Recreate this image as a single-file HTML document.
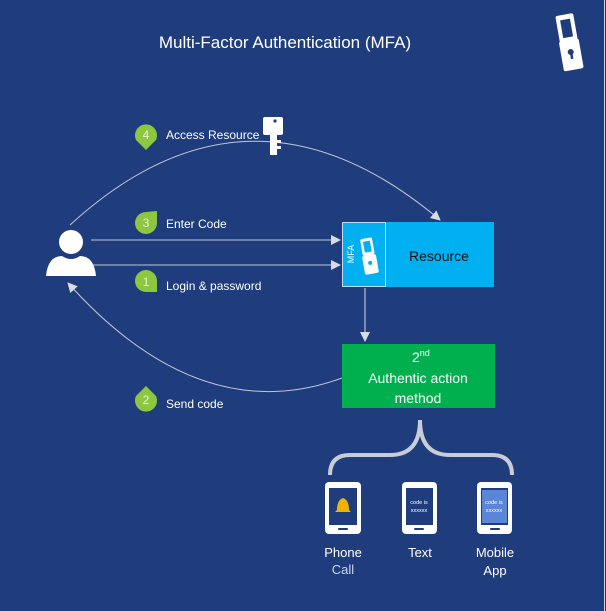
<!DOCTYPE html><html><head><style>body{margin:0}svg{display:block}text{font-family:"Liberation Sans",sans-serif}</style></head><body>
<svg width="606" height="611" viewBox="0 0 606 611">
<rect width="606" height="611" fill="#1f3d7d"/>
<line x1="604.5" y1="0" x2="604.5" y2="611" stroke="#c8d0e0" stroke-width="1"/>
<text x="285" y="48" fill="#fff" font-size="17" text-anchor="middle">Multi-Factor Authentication (MFA)</text>
<!-- top right phone-lock icon -->
<g transform="translate(570,42) rotate(-10)" fill="#fff">
<rect x="-10" y="-28" width="18" height="28" rx="2"/><rect x="-6" y="-23" width="10" height="18" fill="#1f3d7d"/>
<rect x="-11" y="-2" width="20" height="30" rx="2"/><circle cx="-1" cy="10" r="3" fill="#1f3d7d"/><rect x="-2" y="10" width="2.5" height="7" fill="#1f3d7d"/>
</g>
<defs><marker id="a" markerWidth="10" markerHeight="10" refX="9" refY="5" orient="auto" markerUnits="userSpaceOnUse"><path d="M0,0 L10,5 L0,10z" fill="#d8dce6"/></marker></defs>
<!-- arcs -->
<path d="M70,225 Q250,60 440,220" fill="none" stroke="#c0c8d8" stroke-width="1" marker-end="url(#a)"/>
<path d="M342,378 Q200,430 68,283" fill="none" stroke="#c0c8d8" stroke-width="1" marker-end="url(#a)"/>
<line x1="91" y1="240" x2="340" y2="240" stroke="#c0c8d8" marker-end="url(#a)"/>
<line x1="91" y1="265" x2="340" y2="265" stroke="#c0c8d8" marker-end="url(#a)"/>
<line x1="365" y1="288" x2="365" y2="341" stroke="#d8dce6" marker-end="url(#a)"/>
<!-- key -->
<g fill="#fff"><rect x="263" y="117" width="20" height="18" rx="2"/><rect x="270" y="133" width="7" height="22"/><rect x="277" y="140" width="4" height="3"/><rect x="277" y="146" width="4" height="3"/></g>
<circle cx="275" cy="121" r="1.6" fill="#1f3d7d"/>
<!-- person -->
<circle cx="71" cy="242" r="12" fill="#fff"/>
<path d="M46,276 Q48,256 62,256 Q71,262 80,256 Q94,256 96,276Z" fill="#fff"/>
<!-- badges -->
<g fill="#8dc63f">
<path d="M146,150 L136,140 A11,11 0 1 1 156,140Z"/>
<path d="M157,211 L157,223 A11,11 0 1 1 146,212Z"/>
<path d="M157,292 L146,292 A11,11 0 1 1 157,281Z"/>
<path d="M146,386 L156,396 A11,11 0 1 1 136,396Z"/>
</g>
<g fill="#e8f5d0" font-size="12" text-anchor="middle"><text x="146" y="139">4</text><text x="146" y="227">3</text><text x="146" y="286">1</text><text x="146" y="404">2</text></g>
<g fill="#fff" font-size="12"><text x="166" y="139">Access Resource</text><text x="166" y="228">Enter Code</text><text x="166" y="290">Login &amp; password</text><text x="166" y="408">Send code</text></g>
<!-- resource -->
<rect x="342" y="222" width="152" height="65" fill="#00b0f0"/>
<rect x="342.5" y="222.5" width="43" height="64" fill="#00b0f0" stroke="#c8d8e8"/>
<text x="439" y="261" font-size="14" text-anchor="middle" fill="#111">Resource</text>
<text transform="translate(354,254) rotate(-90)" font-size="9" fill="#fff" text-anchor="middle">MFA</text>
<g transform="translate(369,256) rotate(-10)" fill="#fff"><rect x="-6" y="-18" width="12" height="17" rx="2"/><rect x="-3.5" y="-15" width="7" height="11" fill="#00b0f0"/><rect x="-7" y="-1" width="14" height="19" rx="2"/><circle cx="0" cy="7" r="2" fill="#00b0f0"/></g>
<!-- green -->
<rect x="342" y="344" width="153" height="64" fill="#00b04f"/>
<text x="412" y="362" font-size="14" fill="#fff">2<tspan font-size="9" dy="-6">nd</tspan></text>
<text x="418" y="383" font-size="14" fill="#fff" text-anchor="middle">Authentic action</text>
<text x="418" y="403" font-size="14" fill="#fff" text-anchor="middle">method</text>
<!-- brace -->
<path d="M330,475 Q330,455 350,455 L390,455 Q420,455 420,420 Q420,455 450,455 L492,455 Q512,455 512,475" fill="none" stroke="#c8ccd6" stroke-width="4"/>
<!-- phones -->
<g fill="#fff"><rect x="325" y="482" width="36" height="52" rx="4"/><rect x="402" y="482" width="35" height="52" rx="4"/><rect x="477" y="482" width="35" height="52" rx="4"/></g>
<g fill="#1f3d7d"><rect x="329" y="488" width="28" height="37"/><rect x="406" y="488" width="27" height="37"/><rect x="481" y="488" width="27" height="37"/></g>
<rect x="482" y="490" width="25" height="33" fill="#5b86d8"/>
<g fill="#1f3d7d"><rect x="338" y="528" width="10" height="2" rx="1"/><rect x="414" y="528" width="10" height="2" rx="1"/><rect x="490" y="528" width="10" height="2" rx="1"/></g>
<path d="M337,510 Q337,500 343,498 Q349,500 349,510 L351,512 L335,512Z" fill="#f0b400"/>
<g fill="#fff" font-size="5.5" text-anchor="middle"><text x="419" y="504">code is</text><text x="419" y="512">xxxxxx</text><text x="494" y="504">code is</text><text x="494" y="512">xxxxxx</text></g>
<g fill="#fff" font-size="13" text-anchor="middle"><text x="343" y="557">Phone</text><text x="343" y="574" fill="#c8d8f0">Call</text><text x="420" y="557">Text</text><text x="495" y="557">Mobile</text><text x="495" y="575">App</text></g>
</svg></body></html>
